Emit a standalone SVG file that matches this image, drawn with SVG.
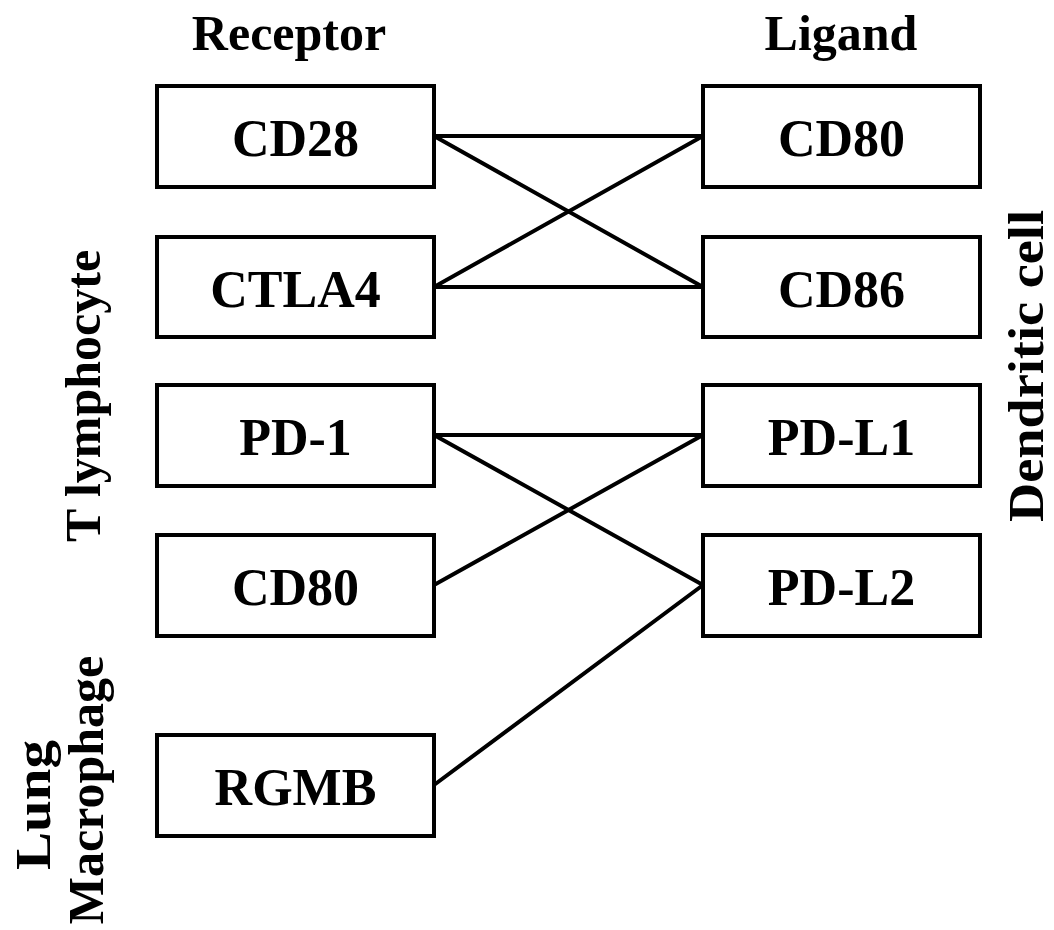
<svg xmlns="http://www.w3.org/2000/svg" width="1054" height="930" viewBox="0 0 1054 930">
<style>
text{font-family:"Liberation Serif","DejaVu Serif",serif;font-weight:bold;font-size:50px;fill:#000;text-anchor:middle}
.lbl{font-size:52px}
.box{fill:#fff;stroke:#000;stroke-width:4}
.conn line{stroke:#000;stroke-width:4;stroke-linecap:round}
</style>
<rect width="1054" height="930" fill="#fff"/>
<text x="289" y="50">Receptor</text>
<text x="841" y="50">Ligand</text>
<text transform="translate(100,396) rotate(-90)">T lymphocyte</text>
<text transform="translate(50,805) rotate(-90)" textLength="130" lengthAdjust="spacingAndGlyphs">Lung</text>
<text transform="translate(103,790) rotate(-90)">Macrophage</text>
<text transform="translate(1043,366) rotate(-90)" textLength="312" lengthAdjust="spacingAndGlyphs">Dendritic cell</text>
<g class="conn">
<line x1="434" y1="136" x2="703" y2="136"/>
<line x1="434" y1="136" x2="703" y2="287"/>
<line x1="434" y1="287" x2="703" y2="136"/>
<line x1="434" y1="287" x2="703" y2="287"/>
<line x1="434" y1="435" x2="703" y2="435"/>
<line x1="434" y1="435" x2="703" y2="585"/>
<line x1="434" y1="585" x2="703" y2="435"/>
<line x1="434" y1="785" x2="703" y2="585"/>
</g>
<g id="cd28"><rect class="box" x="157" y="86" width="277" height="101"/><text class="lbl" x="295.5" y="156">CD28</text></g>
<g id="ctla4"><rect class="box" x="157" y="237" width="277" height="100"/><text class="lbl" x="295.5" y="307">CTLA4</text></g>
<g id="pd1"><rect class="box" x="157" y="385" width="277" height="101"/><text class="lbl" x="295.5" y="455">PD-1</text></g>
<g id="cd80r"><rect class="box" x="157" y="535" width="277" height="101"/><text class="lbl" x="295.5" y="605">CD80</text></g>
<g id="rgmb"><rect class="box" x="157" y="735" width="277" height="101"/><text class="lbl" x="295.5" y="805">RGMB</text></g>
<g id="cd80"><rect class="box" x="703" y="86" width="277" height="101"/><text class="lbl" x="841.5" y="156">CD80</text></g>
<g id="cd86"><rect class="box" x="703" y="237" width="277" height="100"/><text class="lbl" x="841.5" y="307">CD86</text></g>
<g id="pdl1"><rect class="box" x="703" y="385" width="277" height="101"/><text class="lbl" x="841.5" y="455">PD-L1</text></g>
<g id="pdl2"><rect class="box" x="703" y="535" width="277" height="101"/><text class="lbl" x="841.5" y="605">PD-L2</text></g>
</svg>
